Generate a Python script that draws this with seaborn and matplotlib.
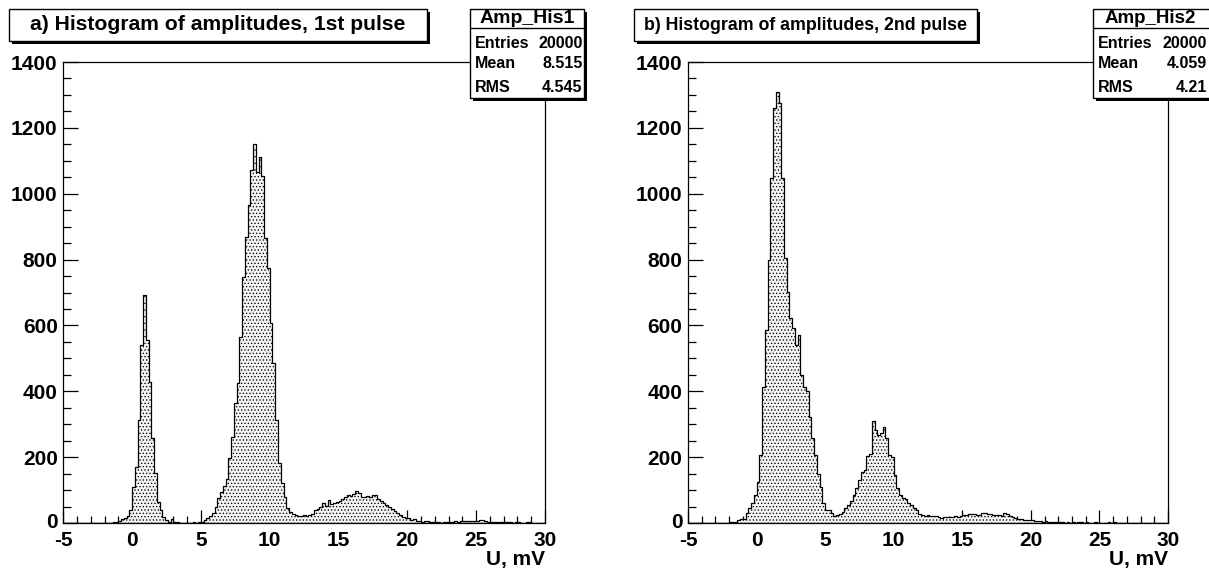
import numpy as np
import pandas as pd
import matplotlib
matplotlib.use("Agg")
import matplotlib.pyplot as plt
import matplotlib.patches as mpatches
from matplotlib.ticker import MultipleLocator
import seaborn as sns

# ---------------- data (bins of 0.2 mV from -5 to 30) ----------------
bin_lo, bin_hi, bin_w = -5.0, 30.0, 0.2

counts_pulse1 = [
    0, 0, 0, 0, 0, 0, 0, 0, 0, 0,
    0, 0, 0, 0, 0, 0, 0, 1, 2, 3,
    5, 12, 16, 22, 38, 108, 170, 313, 541, 692,
    556, 429, 257, 151, 65, 40, 19, 8, 4, 12,
    3, 2, 1, 1, 0, 1, 0, 2, 1, 3,
    4, 8, 14, 20, 29, 50, 75, 95, 112, 135,
    196, 262, 364, 424, 566, 748, 870, 965, 1072, 1151,
    1067, 1110, 1055, 865, 773, 606, 485, 313, 181, 120,
    80, 45, 34, 28, 24, 22, 21, 24, 22, 24,
    26, 38, 42, 48, 62, 52, 70, 58, 60, 65,
    68, 72, 78, 86, 82, 88, 96, 90, 80, 78,
    82, 80, 86, 84, 74, 68, 62, 55, 50, 44,
    36, 30, 24, 18, 16, 14, 10, 12, 6, 5,
    4, 5, 6, 3, 2, 3, 2, 1, 3, 4,
    2, 3, 5, 4, 6, 5, 6, 7, 5, 6,
    7, 8, 10, 6, 4, 3, 2, 3, 2, 3,
    2, 2, 2, 1, 2, 2, 1, 1, 2, 3,
    1, 1, 0, 0, 0,
]

counts_pulse2 = [
    0, 0, 0, 0, 0, 0, 0, 0, 0, 0,
    0, 0, 0, 0, 0, 2, 3, 3, 10, 11,
    12, 29, 45, 60, 85, 125, 206, 414, 586, 799,
    1047, 1259, 1310, 1274, 1047, 804, 703, 622, 591, 540,
    571, 449, 414, 400, 323, 257, 206, 150, 110, 60,
    40, 38, 29, 21, 24, 27, 34, 45, 55, 67,
    85, 105, 130, 156, 160, 203, 210, 311, 282, 267,
    272, 292, 257, 206, 200, 146, 105, 85, 75, 72,
    62, 55, 45, 40, 28, 24, 22, 24, 21, 20,
    21, 18, 16, 17, 18, 17, 19, 20, 19, 22,
    24, 25, 27, 26, 27, 24, 23, 31, 30, 27,
    26, 24, 23, 24, 22, 29, 27, 21, 19, 14,
    13, 11, 10, 9, 8, 9, 7, 7, 6, 4,
    5, 4, 3, 3, 2, 2, 3, 1, 2, 1,
    2, 1, 2, 3, 1, 2, 1, 1, 2, 1,
    1, 0, 1, 2, 1, 2, 1, 0, 1, 0,
    0, 0, 0, 0, 0, 0, 0, 0, 0, 0,
    0, 0, 0, 0, 0,
]

titles = ["a) Histogram of amplitudes, 1st pulse",
          "b) Histogram of amplitudes, 2nd pulse"]
hist_names = ["Amp_His1", "Amp_His2"]
stat_labels = ["Entries", "Mean", "RMS"]
stat_values = [["20000", "8.515", "4.545"],
               ["20000", "4.059", "4.21"]]
xlabel = "U, mV"
xticks = [-5, 0, 5, 10, 15, 20, 25, 30]
yticks = [0, 200, 400, 600, 800, 1000, 1200, 1400]

# ---------------- figure ----------------
sns.set_style("ticks")
plt.rcParams["font.family"] = ["Liberation Sans", "DejaVu Sans"]
plt.rcParams["font.weight"] = "bold"
plt.rcParams["hatch.linewidth"] = 0.55
plt.rcParams["axes.unicode_minus"] = False
plt.rcParams["text.color"] = "black"
plt.rcParams["xtick.color"] = "black"
plt.rcParams["ytick.color"] = "black"
plt.rcParams["axes.labelcolor"] = "black"

W, H = 1209, 569
fig = plt.figure(figsize=(W / 100, H / 100), dpi=100)
fig.patch.set_facecolor("white")


def fx(px):
    return px / W


def fy(py):
    return 1 - py / H


nb = int(round((bin_hi - bin_lo) / bin_w))
centers = bin_lo + bin_w * (np.arange(nb) + 0.5)


def fix(c):
    c = list(c)[:nb]
    return c + [0] * (nb - len(c))


axes_px = [(63.3, 545.0), (688.0, 1168.0)]
top_px, bot_px = 62.0, 523.0

for k, counts in enumerate([counts_pulse1, counts_pulse2]):
    x0, x1 = axes_px[k]
    ax = fig.add_axes([fx(x0), fy(bot_px), (x1 - x0) / W, (bot_px - top_px) / H])
    df = pd.DataFrame({"u": centers, "n": fix(counts)})
    sns.histplot(data=df, x="u", weights="n", binwidth=bin_w,
                 binrange=(bin_lo, bin_hi), element="step",
                 fill=True, ax=ax, facecolor="#f4f4f4", edgecolor="black",
                 hatch=".....", linewidth=0.9, alpha=1)
    ax.set_xlim(bin_lo, bin_hi)
    ax.set_ylim(0, 1400)
    ax.set_xticks(xticks)
    ax.set_yticks(yticks)
    ax.xaxis.set_minor_locator(MultipleLocator(1))
    ax.yaxis.set_minor_locator(MultipleLocator(50))
    ax.tick_params(axis="x", which="major", direction="in", length=9.5,
                   width=0.9, labelsize=15, pad=6, top=False,
                   colors="black")
    ax.tick_params(axis="x", which="minor", direction="in", length=5,
                   width=0.9, top=False, colors="black")
    ax.tick_params(axis="y", which="major", direction="in", length=11,
                   width=0.9, labelsize=15, pad=4, right=False,
                   colors="black")
    ax.tick_params(axis="y", which="minor", direction="in", length=5.5,
                   width=0.9, right=False, colors="black")
    for lab in ax.get_xticklabels() + ax.get_yticklabels():
        lab.set_fontweight("bold")
        lab.set_color("black")
    ax.get_yticklabels()[0].set_verticalalignment("center")
    for sp in ax.spines.values():
        sp.set_visible(True)
        sp.set_linewidth(0.9)
        sp.set_color("black")
    ax.set_ylabel("")
    ax.set_xlabel(xlabel, loc="right", fontsize=15, fontweight="bold",
                  labelpad=0, color="black")

# ---------------- boxes with shadow ----------------
def pave(x0, y0, x1, y1, shadow=2.5):
    sh = mpatches.Rectangle((fx(x0 + shadow), fy(y1 + shadow)),
                            (x1 - x0) / W, (y1 - y0) / H,
                            transform=fig.transFigure, facecolor="black",
                            edgecolor="black", linewidth=0, zorder=5,
                            clip_on=False)
    bx = mpatches.Rectangle((fx(x0), fy(y1)), (x1 - x0) / W, (y1 - y0) / H,
                            transform=fig.transFigure, facecolor="white",
                            edgecolor="black", linewidth=1.0, zorder=6,
                            clip_on=False)
    fig.add_artist(sh)
    fig.add_artist(bx)


title_boxes = [(8.5, 9.5, 427.0, 40.5), (634.0, 9.5, 976.5, 40.5)]
title_sizes = [15.2, 12.8]
for k in range(2):
    x0, y0, x1, y1 = title_boxes[k]
    pave(x0, y0, x1, y1, shadow=3.0)
    fig.text(fx((x0 + x1) / 2), fy((y0 + y1) / 2), titles[k],
             ha="center", va="center", fontsize=title_sizes[k],
             fontweight="bold", zorder=7, color="black")

stat_boxes = [(470.0, 9.3, 584.0, 98.3), (1093.0, 9.3, 1214.0, 98.3)]
for k in range(2):
    x0, y0, x1, y1 = stat_boxes[k]
    pave(x0, y0, x1, y1)
    sep = 18.4
    fig.add_artist(plt.Line2D([fx(x0), fx(x1)], [fy(y0 + sep), fy(y0 + sep)],
                              transform=fig.transFigure, color="black",
                              linewidth=1.0, zorder=7))
    hx = (x0 + x1) / 2 if k == 0 else (x0 + 1208) / 2
    fig.text(fx(hx), fy(18.5), hist_names[k], ha="center",
             va="center", fontsize=14 if k == 0 else 13.5,
             fontweight="bold", zorder=8, color="black")
    right_edge = x1 - 1.5 if k == 0 else 1207
    rows_y = [43.3, 63.3, 87.3]
    for lbl, val, yy in zip(stat_labels, stat_values[k], rows_y):
        fig.text(fx(x0 + 5), fy(yy), lbl, ha="left", va="center",
                 fontsize=11.5, fontweight="bold", zorder=8, color="black")
        fig.text(fx(right_edge), fy(yy), val, ha="right", va="center",
                 fontsize=11.5, fontweight="bold", zorder=8, color="black")

fig.savefig("out.png", dpi=100, facecolor="white")
